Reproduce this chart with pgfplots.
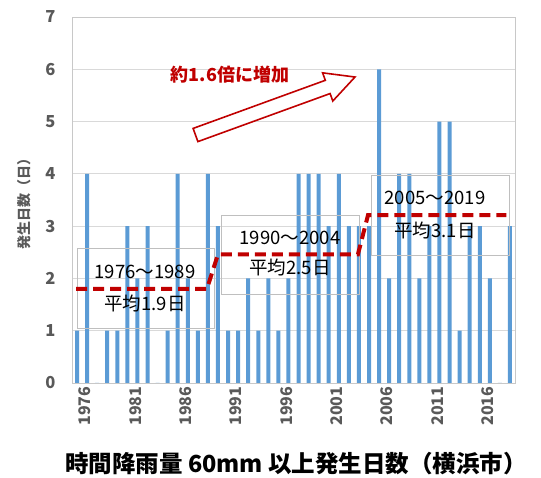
\documentclass[border=0pt]{standalone}
\usepackage{pgfplots}
\pgfplotsset{compat=1.18}
\usepackage{fontspec}
\setmainfont{Noto Sans CJK JP}
\definecolor{barblue}{HTML}{5B9BD5}
\definecolor{darkred}{HTML}{C00000}
\definecolor{gridgray}{HTML}{D9D9D9}
\definecolor{framegray}{HTML}{C8C8C8}
\definecolor{boxgray}{HTML}{BFBFBF}
\definecolor{txtgray}{HTML}{595959}
\begin{document}
\begin{tikzpicture}
\begin{axis}[
  at={(72pt,95pt)}, anchor=south west,
  scale only axis, width=443pt, height=366pt,
  xmin=-0.5, xmax=43.5, ymin=0, ymax=7,
  ytick={0,1,...,7},
  xtick={0,5,...,40},
  xticklabels={1976,1981,1986,1991,1996,2001,2006,2011,2016},
  major tick length=0pt,
  ymajorgrids, grid style={gridgray, line width=0.8pt},
  axis line style={framegray, line width=0.8pt},
  /pgf/number format/assume math mode=true,
  tick label style={font=\fontsize{16.5}{18}\selectfont\bfseries, text=txtgray},
  yticklabel style={xshift=-13pt},
  xticklabel style={rotate=90, anchor=east, yshift=-8pt, font=\fontsize{16}{18}\selectfont\bfseries},
]
\addplot[ybar, bar width=4pt, fill=barblue, draw=none] coordinates {
(0,1) (1,4) (2,0) (3,1) (4,1) (5,3) (6,2) (7,3) (8,0) (9,1) (10,4) (11,2) (12,1) (13,4)
(14,3) (15,1) (16,1) (17,2) (18,1) (19,2) (20,1) (21,2) (22,4) (23,4) (24,4) (25,3) (26,4) (27,3) (28,3)
(29,3) (30,6) (31,2) (32,4) (33,4) (34,2) (35,3) (36,5) (37,5) (38,1) (39,3) (40,3) (41,2) (42,0) (43,3)
};
% period boxes
\draw[boxgray, line width=1pt] (axis cs:0.03,2.576) rectangle (axis cs:13.70,1.046);
\draw[boxgray, line width=1pt] (axis cs:14.30,3.194) rectangle (axis cs:28.04,1.683);
\draw[boxgray, line width=1pt] (axis cs:29.27,3.964) rectangle (axis cs:42.94,2.434);
\node[font=\fontsize{18.5}{20}\selectfont] at (axis cs:6.75,2.13) {1976〜1989};
\node[font=\fontsize{18.5}{20}\selectfont] at (axis cs:6.75,1.52) {平均1.9日};
\node[font=\fontsize{18.5}{20}\selectfont] at (axis cs:21.15,2.773) {1990〜2004};
\node[font=\fontsize{18.5}{20}\selectfont] at (axis cs:21.15,2.20) {平均2.5日};
\node[font=\fontsize{18.5}{20}\selectfont] at (axis cs:35.55,3.532) {2005〜2019};
\node[font=\fontsize{18.5}{20}\selectfont] at (axis cs:35.55,2.926) {平均3.1日};
% average step line
\addplot[darkred, line width=4pt, dash pattern=on 11pt off 6pt] coordinates {
(-0.1,1.80) (12.9,1.80) (14.0,2.46) (27.9,2.46) (28.9,3.21) (42.65,3.21)
};
% arrow
\draw[darkred, line width=1.6pt, fill=white, line join=miter]
  (axis cs:12.005,4.617) -- (axis cs:11.528,4.869) -- (axis cs:24.659,5.789)
  -- (axis cs:24.391,5.932) -- (axis cs:27.609,5.852) -- (axis cs:25.404,5.393)
  -- (axis cs:25.136,5.536) -- cycle;
\node[text=darkred, font=\fontsize{18}{20}\selectfont\bfseries] at (axis cs:15.19,5.89) {約1.6倍に増加};
\end{axis}
\node[rotate=90, text=txtgray, font=\fontsize{14}{16}\selectfont\bfseries] at (24pt,277pt) {発生日数（日）};
\node[font=\fontsize{23.5}{26}\selectfont\bfseries] at (296pt,14pt) {時間降雨量 60mm 以上発生日数（横浜市）};
\pgfresetboundingbox
\path[use as bounding box] (0pt,0pt) rectangle (541pt,478pt);
\end{tikzpicture}
\end{document}
